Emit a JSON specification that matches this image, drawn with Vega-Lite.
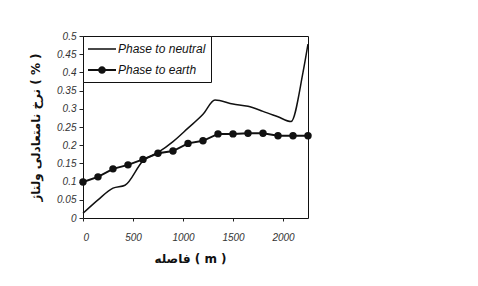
{
  "$schema": "https://vega.github.io/schema/vega-lite/v6.json",
  "width": 225,
  "height": 182,
  "autosize": {"type": "none"},
  "padding": {"left": 83, "top": 36, "right": 170, "bottom": 68},
  "background": "white",
  "config": {
    "view": {"stroke": "#111", "strokeWidth": 1},
    "font": "Liberation Sans"
  },
  "data": {
    "values": [
      {"d": 0, "v": 0.013, "series": "Phase to neutral"},
      {"d": 150, "v": 0.05, "series": "Phase to neutral"},
      {"d": 300, "v": 0.082, "series": "Phase to neutral"},
      {"d": 420, "v": 0.09, "series": "Phase to neutral"},
      {"d": 600, "v": 0.157, "series": "Phase to neutral"},
      {"d": 750, "v": 0.18, "series": "Phase to neutral"},
      {"d": 900, "v": 0.21, "series": "Phase to neutral"},
      {"d": 1050, "v": 0.247, "series": "Phase to neutral"},
      {"d": 1200, "v": 0.285, "series": "Phase to neutral"},
      {"d": 1320, "v": 0.324, "series": "Phase to neutral"},
      {"d": 1500, "v": 0.313, "series": "Phase to neutral"},
      {"d": 1650, "v": 0.307, "series": "Phase to neutral"},
      {"d": 1800, "v": 0.293, "series": "Phase to neutral"},
      {"d": 1950, "v": 0.278, "series": "Phase to neutral"},
      {"d": 2080, "v": 0.265, "series": "Phase to neutral"},
      {"d": 2200, "v": 0.4, "series": "Phase to neutral"},
      {"d": 2250, "v": 0.478, "series": "Phase to neutral"},
      {"d": 0, "v": 0.099, "series": "Phase to earth"},
      {"d": 150, "v": 0.113, "series": "Phase to earth"},
      {"d": 300, "v": 0.135, "series": "Phase to earth"},
      {"d": 450, "v": 0.146, "series": "Phase to earth"},
      {"d": 600, "v": 0.161, "series": "Phase to earth"},
      {"d": 750, "v": 0.178, "series": "Phase to earth"},
      {"d": 900, "v": 0.184, "series": "Phase to earth"},
      {"d": 1050, "v": 0.205, "series": "Phase to earth"},
      {"d": 1200, "v": 0.212, "series": "Phase to earth"},
      {"d": 1350, "v": 0.231, "series": "Phase to earth"},
      {"d": 1500, "v": 0.231, "series": "Phase to earth"},
      {"d": 1650, "v": 0.233, "series": "Phase to earth"},
      {"d": 1800, "v": 0.233, "series": "Phase to earth"},
      {"d": 1950, "v": 0.226, "series": "Phase to earth"},
      {"d": 2100, "v": 0.226, "series": "Phase to earth"},
      {"d": 2250, "v": 0.226, "series": "Phase to earth"}
    ]
  },
  "encoding": {
    "x": {
      "field": "d", "type": "quantitative",
      "scale": {"domain": [0, 2250], "nice": false, "zero": false},
      "axis": {
        "values": [0, 500, 1000, 1500, 2000],
        "format": "d",
        "title": "فاصله ( m )",
        "titleFont": "DejaVu Sans", "titleFontWeight": "bold", "titleFontSize": 12, "titleColor": "#111",
        "titleX": 107, "titleY": 40, "titleBaseline": "middle", "titleAnchor": "middle",
        "labelFont": "Liberation Sans", "labelFontStyle": "italic", "labelFontSize": 10, "labelColor": "#333",
        "labelPadding": 11, "domain": false, "tickColor": "#222", "tickSize": 3, "grid": false
      }
    },
    "y": {
      "field": "v", "type": "quantitative",
      "scale": {"domain": [0, 0.5], "nice": false},
      "axis": {
        "values": [0, 0.05, 0.1, 0.15, 0.2, 0.25, 0.3, 0.35, 0.4, 0.45, 0.5],
        "labelExpr": "format(datum.value, '~g')",
        "title": "نرخ نامتعادلی ولتاژ ( % )",
        "titleFont": "DejaVu Sans", "titleFontWeight": "bold", "titleFontSize": 12, "titleColor": "#111",
        "titleX": -48, "titleY": 91, "titleAnchor": "middle", "titleBaseline": "middle",
        "labelFont": "Liberation Sans", "labelFontStyle": "italic", "labelFontSize": 10, "labelColor": "#333",
        "labelPadding": 3, "domain": false, "tickColor": "#222", "tickSize": 4, "grid": false
      }
    }
  },
  "layer": [
    {
      "transform": [{"filter": "datum.series == 'Phase to neutral'"}],
      "mark": {"type": "line", "interpolate": "monotone", "color": "#111", "strokeWidth": 1.5}
    },
    {
      "transform": [{"filter": "datum.series == 'Phase to earth'"}],
      "mark": {"type": "line", "color": "#111", "strokeWidth": 2}
    },
    {
      "transform": [{"filter": "datum.series == 'Phase to earth'"}],
      "mark": {"type": "point", "shape": "circle", "filled": true, "color": "#111", "size": 55, "opacity": 1}
    },
    {
      "mark": {"type": "point", "opacity": 0, "filled": true, "color": "#111"},
      "encoding": {
        "shape": {
          "field": "series", "type": "nominal",
          "scale": {
            "domain": ["Phase to neutral", "Phase to earth"],
            "range": ["M-2,-0.11H2V0.11H-2Z", "M-2,-0.13H2V0.13H-2ZM0.55,0A0.55,0.55 0 1,1 -0.55,0A0.55,0.55 0 1,1 0.55,0Z"]
          },
          "legend": {
            "orient": "none", "legendX": 0, "legendY": 0,
            "title": null,
            "strokeColor": "#111", "fillColor": "white",
            "padding": 5,
            "symbolSize": 196,
            "symbolOffset": 6,
            "labelFont": "Liberation Sans", "labelFontStyle": "italic", "labelFontSize": 12, "labelColor": "#111",
            "labelOffset": 8, "rowPadding": 7,
            "labelLimit": 200,
            "encode": {
              "symbols": {
                "update": {
                  "fill": {"value": "#111"},
                  "opacity": {"value": 1},
                  "fillOpacity": {"value": 1}
                }
              }
            }
          }
        }
      }
    }
  ]
}
